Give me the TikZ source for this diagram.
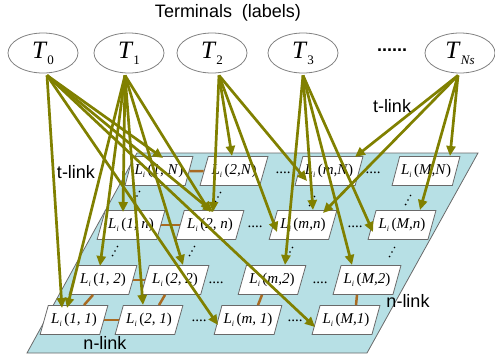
\documentclass[tikz,border=0pt]{standalone}
\usepackage{fontspec}
\setmainfont{Liberation Serif}
\setsansfont{Liberation Sans}
\usetikzlibrary{shapes.geometric,arrows.meta,calc}

\definecolor{tlinkc}{RGB}{128,128,0}
\definecolor{nlinkc}{RGB}{168,106,34}
\definecolor{planec}{RGB}{183,224,229}
\definecolor{edgec}{RGB}{105,105,105}

\pgfdeclarelayer{front}
\pgfsetlayers{main,front}

% pixel label L_i(...)
\newcommand{\pix}[1]{\textit{L}\raisebox{-3pt}{\fontsize{8}{8}\selectfont\textit{i}}\,(\textit{#1})}
% terminal label T_k
\newcommand{\term}[1]{\textit{T}\raisebox{-6pt}{\fontsize{13}{13}\selectfont #1}}

\begin{document}
\begin{tikzpicture}[x=1pt,y=-1pt,
  cell/.style={trapezium, trapezium left angle=62, trapezium right angle=118,
    trapezium stretches=true, minimum width=68pt, minimum height=29pt,
    inner sep=0pt, draw=edgec, fill=white, line width=0.8pt,
    font=\fontsize{15}{17}\selectfont},
  termnode/.style={ellipse, draw=gray, fill=white, minimum width=70pt,
    minimum height=40pt, inner sep=0pt, line width=0.8pt,
    font=\fontsize{25}{28}\selectfont},
  tlink/.style={draw=tlinkc, line width=2.7pt, -{Triangle[length=10pt,width=9pt]}},
  nlink/.style={draw=nlinkc, line width=2.5pt},
  lbl/.style={font=\sffamily\fontsize{18}{20}\selectfont},
  hdots/.style={font=\fontsize{15}{15}\selectfont, inner sep=0pt}
]
\useasboundingbox (0,0) rectangle (495,362);

% image plane
\filldraw[fill=planec, draw=edgec, line width=0.8pt]
  (27,353) -- (367,353) -- (478,153) -- (137,153) -- cycle;

% pixel nodes
\node[cell] (L11) at (74,320) {\pix{1, 1}};
\node[cell] (L21) at (149,320) {\pix{2, 1}};
\node[cell] (Lm1) at (248,320) {\pix{m, 1}};
\node[cell] (LM1) at (346,320) {\pix{M,1}};
\node[cell] (L12) at (103,280) {\pix{1, 2}};
\node[cell] (L22) at (175,280) {\pix{2, 2}};
\node[cell] (Lm2) at (272,280) {\pix{m,2}};
\node[cell] (LM2) at (367,280) {\pix{M,2}};
\node[cell] (L1n) at (131,225) {\pix{1, n}};
\node[cell] (L2n) at (210,225) {\pix{2, n}};
\node[cell] (Lmn) at (303,225) {\pix{m,n}};
\node[cell] (LMn) at (402,225) {\pix{M,n}};
\node[cell] (L1N) at (159,171) {\pix{1, N}};
\node[cell] (L2N) at (234,171) {\pix{2,N}};
\node[cell] (LmN) at (329,171) {\pix{m,N}};
\node[cell] (LMN) at (426,171) {\pix{M,N}};

% n-links
\draw[nlink] (L1N.east) -- (L2N.west);
\draw[nlink] (L1n.east) -- (L2n.west);
\draw[nlink] (L12.east) -- (L22.west);
\draw[nlink] (L11.east) -- (L21.west);
\draw[nlink] ([xshift=10]L11.north) -- ([xshift=-10]L12.south);
\draw[nlink] ([xshift=10]L21.north) -- ([xshift=-10]L22.south);
\draw[nlink] ([xshift=10]Lm1.north) -- ([xshift=-10]Lm2.south);
\draw[nlink] ([xshift=10]LM1.north) -- ([xshift=-10]LM2.south);

% row ellipsis
\node[hdots] (d1) at (199,321) {....};
\node[hdots] (d2) at (295,321) {....};
\node[hdots] (d3) at (216,283) {....};
\node[hdots] (d4) at (320,283) {....};
\node[hdots] (d5) at (255,227) {....};
\node[hdots] (d6) at (355,227) {....};
\node[hdots] (d7) at (283,173) {....};
\node[hdots] (d8) at (373,173) {....};

% column ellipsis: three dots along the slant of the plane
\foreach \cx/\cy in {137/196, 218/197, 312/201, 408/200,
                     115/251, 192/251, 290/252, 392/252}
  \foreach \k in {-1,0,1}
    \fill (\cx+\k*2.4, \cy-\k*4.5) circle (0.9pt);

% terminals, kept above the link ends
\begin{pgfonlayer}{front}
\node[termnode] (T0) at (43,53) {\term{0}};
\node[termnode] (T1) at (129,53) {\term{1}};
\node[termnode] (T2) at (212,53) {\term{2}};
\node[termnode] (T3) at (303,53) {\term{3}};
\node[termnode] (TNs) at (460,53) {\term{\textit{Ns}}};
\end{pgfonlayer}
\node[font=\sffamily\bfseries\fontsize{18}{18}\selectfont, inner sep=0pt] (tdots) at (392,50) {......};

% t-links
\draw[tlink] ([xshift=4,yshift=-2]T0.south) -- ($(L11)+(-12,-12)$);
\draw[tlink] ([xshift=4,yshift=-2]T0.south) -- ($(L1N)+(4,-13)$);
\draw[tlink] ([xshift=4,yshift=-2]T0.south) -- ($(L2n)+(3,-13)$);
\draw[tlink] ([xshift=4,yshift=-2]T0.south) -- ($(Lm1)+(-30,5)$);
\draw[tlink] ([xshift=4,yshift=-2]T0.south) -- ($(LM1)+(-31,7)$);

\draw[tlink] ([xshift=-4,yshift=-2]T1.south) -- ($(L11)+(-7,-12)$);
\draw[tlink] ([xshift=-4,yshift=-2]T1.south) -- ($(L12)+(-3,-14)$);
\draw[tlink] ([xshift=-4,yshift=-2]T1.south) -- ($(L1n)+(-8,-13)$);
\draw[tlink] ([xshift=-4,yshift=-2]T1.south) -- ($(L21)+(-6,-15)$);
\draw[tlink] ([xshift=-4,yshift=-2]T1.south) -- ($(L22)+(8,-15)$);
\draw[tlink] ([xshift=-4,yshift=-2]T1.south) -- ($(L2n)+(0,-13)$);

\draw[tlink] ([xshift=7,yshift=-2]T2.south) -- ($(L2N)+(-2,-15)$);
\draw[tlink] ([xshift=7,yshift=-2]T2.south) -- ($(L2n)+(3,-13)$);
\draw[tlink] ([xshift=7,yshift=-2]T2.south) -- ($(LmN)+(-22,10)$);
\draw[tlink] ([xshift=7,yshift=-2]T2.south) -- ($(Lmn)+(-26,7)$);

\draw[tlink] ([yshift=-2]T3.south) -- ($(Lm2)+(13,-15)$);
\draw[tlink] ([yshift=-2]T3.south) -- ($(Lmn)+(10,-15)$);
\draw[tlink] ([yshift=-2]T3.south) -- ($(LM2)+(-15,-15)$);
\draw[tlink] ([yshift=-2]T3.south) -- ($(LMn)+(-29,7)$);

\draw[tlink] ([xshift=-2,yshift=-2]TNs.south) -- ($(LmN)+(26,-14)$);
\draw[tlink] ([xshift=-2,yshift=-2]TNs.south) -- ($(LMN)+(24,-15)$);
\draw[tlink] ([xshift=-2,yshift=-2]TNs.south) -- ($(Lmn)+(20,-12)$);
\draw[tlink] ([xshift=-2,yshift=-2]TNs.south) -- ($(LMn)+(18,-15)$);

% labels
\node[lbl] (title) at (228,13) {Terminals\ \ (labels)};
\node[lbl] (tl1) at (76,172) {t-link};
\node[lbl] (tl2) at (392,106) {t-link};
\node[lbl] (nl1) at (105,343) {n-link};
\node[lbl] (nl2) at (408,301) {n-link};
\end{tikzpicture}
\end{document}
